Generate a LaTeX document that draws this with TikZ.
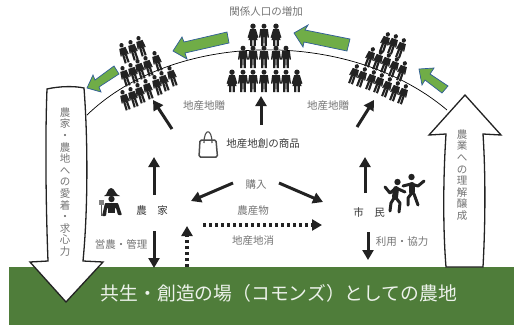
\documentclass[tikz,border=0pt]{standalone}
\usepackage{fontspec}
\setmainfont{Noto Sans CJK JP}
\usetikzlibrary{arrows.meta, positioning}
\definecolor{bandgreen}{HTML}{4F7D3A}
\definecolor{leafgreen}{HTML}{70AD47}
\definecolor{leafblue}{HTML}{2F5C97}
\definecolor{inkblack}{HTML}{222222}

\begin{document}
\begin{tikzpicture}[x=1pt, y=-1pt, thick,
        lbl/.style = {text=black!55, font=\fontsize{10.5}{12}\selectfont, inner sep=0pt},
        actor/.style = {text=black!78, font=\fontsize{10.5}{12}\selectfont, inner sep=0pt},
        vlbl/.style = {text=black!55, font=\fontsize{10.5}{12}\selectfont, align=center, inner sep=0pt},
        bandlbl/.style = {text=white!90!bandgreen, font=\fontsize{18.8}{20}\selectfont, inner sep=0pt},
        bigarrow/.style = {draw=inkblack, fill=white, line width=1.3pt, line join=miter},
        leafarrow/.style = {draw=leafblue, fill=leafgreen, line width=.7pt},
        flow/.style = {draw=inkblack, line width=3pt, -{Triangle[width=11pt, length=10pt]}},
        dotflow/.style = {draw=inkblack, line width=3.2pt, dash pattern=on 3pt off 3pt, -{Triangle[width=11pt, length=10pt]}},
        limb/.style = {draw=inkblack, line width=3pt, line join=round, line cap=round},
        manfig/.pic = {
            \fill[inkblack] (0,-8.8) circle (2.5);
            \fill[inkblack] (-3.9,-5.8) -- (3.9,-5.8) -- (5,2.6) -- (3.6,2.6)
                -- (2.8,-2) -- (3,11.2) -- (.6,11.2) -- (.3,2) -- (-.3,2) -- (-.6,11.2) -- (-3,11.2)
                -- (-2.8,-2) -- (-3.6,2.6) -- (-5,2.6) -- cycle;
        },
        womanfig/.pic = {
            \fill[inkblack] (0,-8.8) circle (2.7);
            \fill[inkblack] (-2.9,-5.8) -- (2.9,-5.8) -- (5.4,2.5) -- (4,3)
                -- (2.6,-1) -- (4.6,5.2) -- (2.8,5.2) -- (2.8,11.2) -- (.7,11.2) -- (.7,5.2) -- (-.7,5.2) -- (-.7,11.2)
                -- (-2.8,11.2) -- (-2.8,5.2) -- (-4.6,5.2) -- (-2.6,-1) -- (-4,3) -- (-5.4,2.5) -- cycle;
        }]
    \useasboundingbox (0,0) rectangle (514,325);

    % band at the bottom
    \fill[bandgreen] (9,267) rectangle (514,325);
    \node[bandlbl] (commons) at (279,293) {共生・創造の場（コモンズ）としての農地};

    % arc
    \coordinate (arcl) at (87,115);
    \coordinate (arcr) at (447,110);
    \draw[black, line width=.7pt] (arcl) .. controls (175,30) and (350,28) .. (arcr);

    % crowds
    \foreach \px/\py in {124/53, 133/50, 141/46, 125/76, 133/73, 140/69, 148/66, 157/61,
                         125/100, 133/97, 140/93, 148/89, 157/85, 164/81, 172/76}
        \pic[rotate=18, xscale=.85, yscale=.92] at (\px,\py) {manfig};
    \foreach \px in {264}
        \pic at (\px,35) {manfig};
    \foreach \px in {253,276}
        \pic at (\px,35) {womanfig};
    \foreach \px in {243,253,264,276,286}
        \pic at (\px,57) {manfig};
    \foreach \px in {243,253,264,276,286}
        \pic at (\px,81) {manfig};
    \foreach \px in {232,297}
        \pic at (\px,81) {womanfig};
    \foreach \px/\py in {385/42, 393/44, 401/48, 370/57, 378/60, 386/63, 394/67, 402/71,
                         354/74, 362/77, 371/80, 379/83, 387/87, 395/91, 403/94}
        \pic[rotate=-20, xscale=.85, yscale=.92] at (\px,\py) {manfig};

    % green arrows
    \draw[leafarrow] (173,51) -- (182,37) -- (184,42) -- (227,32) -- (229,43) -- (185,53) -- (187,59) -- cycle;
    \draw[leafarrow] (87,88) -- (93,75) -- (95,80) -- (114,66) -- (119,74) -- (99,87) -- (101,92) -- cycle;
    \draw[leafarrow] (294,33) -- (308,25) -- (305,30) -- (350,39) -- (347,51) -- (304,42) -- (303,47) -- cycle;
    \draw[leafarrow] (419,69) -- (434,68) -- (430,74) -- (448,86) -- (442,93) -- (425,80) -- (422,85) -- cycle;

    % big arrows
    \draw[bigarrow] (47,89) .. controls (60,86) and (75,86) .. (84,88)
        .. controls (88,140) and (88,210) .. (83,261) -- (103,262) -- (66,302) -- (30,262) -- (48,261)
        .. controls (46,210) and (45,140) .. cycle;
    \draw[bigarrow] (465,95) -- (501,135) -- (483,134) .. controls (486,180) and (485,230) .. (483,267)
        -- (446,267) .. controls (443,230) and (443,180) .. (446,134) -- (429,135) -- cycle;
    \node[vlbl] (loyal) at (65,182) {農\\[-.4pt]家\\[-.4pt]・\\[-.4pt]農\\[-.4pt]地\\[-.4pt]へ\\[-.4pt]の\\[-.4pt]愛\\[-.4pt]着\\[-.4pt]・\\[-.4pt]求\\[-.4pt]心\\[-.4pt]力};
    \node[vlbl] (understand) at (462,175) {農\\[-.4pt]業\\[-.4pt]へ\\[-.4pt]の\\[-.4pt]理\\[-.4pt]解\\[-.4pt]醸\\[-.4pt]成};

    % labels
    \node[lbl] (kankei) at (266,12) {関係人口の増加};
    \node[lbl] (giftl) at (204,106) {地産地贈};
    \node[lbl] (giftr) at (328,106) {地産地贈};
    \node[actor] (goods) at (263,144) {地産地創の商品};
    \node[lbl] (buy) at (256,185) {購入};
    \node[lbl] (produce) at (253,211) {農産物};
    \node[lbl] (local) at (253,240) {地産地消};
    \node[actor] (farmer) at (152,211) {農\hspace{1em}家};
    \node[actor] (citizen) at (369,212) {市\hspace{1em}民};
    \node[lbl] (manage) at (121,244) {営農・管理};
    \node[lbl] (use) at (402,242) {利用・協力};

    % bag
    \draw[black!70, line width=1.5pt, rounded corners=1.5pt] (200,140) -- (216,140) -- (217.5,157) -- (199,157) -- cycle;
    \draw[black!70, line width=1.1pt] (204,143) .. controls (204,128) and (212,128) .. (212,143);

    % farmer
    \fill[inkblack] (104,196) .. controls (108,195) and (107,188) .. (111,188) .. controls (115,188) and (115,195) .. (120,196) -- cycle;
    \fill[inkblack] (111.5,199) circle (3.2);
    \fill[inkblack, rounded corners=.8pt] (105,203) -- (118,203) -- (122,215) -- (118,215) -- (116,208)
        -- (107,208) -- (106,216) -- (102,216) -- cycle;
    \fill[inkblack] (108,208) rectangle (115,213);
    \fill[black!50] (99,200) rectangle (104,205);
    \draw[black!65, line width=1.2pt] (101.5,205) -- (101.5,216);

    % dancers
    \fill[inkblack] (397.5,182) circle (3.2);
    \fill[inkblack] (411.5,177) circle (3.2);
    \draw[limb] (385,187) -- (390,193) -- (396,188) -- (405,192);
    \draw[limb, line width=6pt] (396,189) -- (395,197);
    \draw[limb] (394,198) -- (391,203) -- (390,211);
    \draw[limb] (396,198) -- (400,203) -- (399,212);
    \draw[limb] (403,186) -- (411,184) -- (418,186) -- (424,181);
    \draw[limb, line width=6pt] (412,185) -- (412,192);
    \draw[limb] (411,194) -- (408,198) -- (408,205);
    \draw[limb] (414,194) -- (418,205);

    % flows
    \coordinate (goodsl) at (172,129);
    \coordinate (crowdl) at (153,100);
    \coordinate (goodsc) at (261,125);
    \coordinate (crowdc) at (261,96);
    \coordinate (goodsr) at (357,127);
    \coordinate (crowdr) at (374,100);
    \coordinate (farmerup) at (154,195);
    \coordinate (farmertop) at (154,157);
    \coordinate (farmerdn) at (154,231);
    \coordinate (bandl) at (154,268);
    \coordinate (buyl) at (233,183);
    \coordinate (farmerin) at (191,201);
    \coordinate (buyr) at (279,183);
    \coordinate (citizenin) at (323,202);
    \coordinate (citizenup) at (365,193);
    \coordinate (citizentop) at (365,157);
    \coordinate (citizendn) at (368,232);
    \coordinate (bandr) at (368,260);
    \coordinate (dotl) at (203,225);
    \coordinate (dotr) at (322,225);
    \coordinate (dotup) at (187,226);
    \coordinate (dotdn) at (187,267);
    \draw[flow] (goodsl) -- (crowdl);
    \draw[flow] (goodsc) -- (crowdc);
    \draw[flow] (goodsr) -- (crowdr);
    \draw[flow] (farmerup) -- (farmertop);
    \draw[flow] (farmerdn) -- (bandl);
    \draw[flow] (buyl) -- (farmerin);
    \draw[flow] (buyr) -- (citizenin);
    \draw[flow] (citizenup) -- (citizentop);
    \draw[flow] (citizendn) -- (bandr);
    \draw[dotflow] (dotl) -- (dotr);
    \draw[dotflow] (dotdn) -- (dotup);
\end{tikzpicture}
\end{document}
